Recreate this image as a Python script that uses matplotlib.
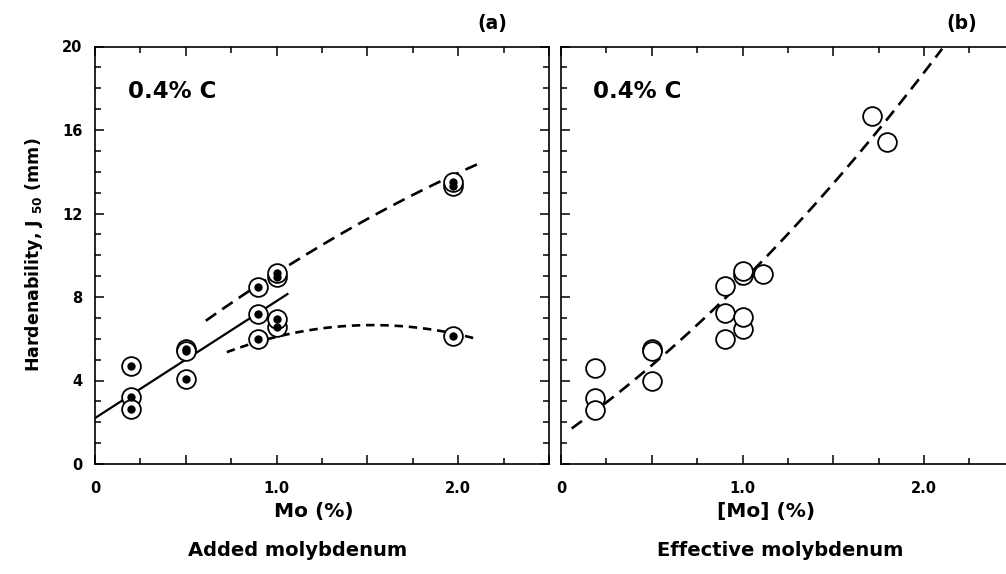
import numpy as np
import matplotlib
matplotlib.use("Agg")
import matplotlib.pyplot as plt
from matplotlib.ticker import FixedLocator, MultipleLocator, FuncFormatter

plt.rcParams['font.family'] = ['DejaVu Sans']
plt.rcParams['font.weight'] = 'bold'
plt.rcParams['mathtext.fontset'] = 'dejavusans'

# ---- data (a): added molybdenum ----
added_mo = [0.2, 0.2, 0.2, 0.5, 0.5, 0.5, 0.9, 0.9, 0.9, 1.0, 1.0, 1.0, 1.0, 1.97, 1.97, 1.97]
added_j50 = [4.69, 3.22, 2.63, 5.50, 5.42, 4.07, 8.48, 7.18, 6.01, 8.95, 9.15, 6.57, 6.97, 13.3, 13.5, 6.14]

# ---- data (b): effective molybdenum ----
eff_mo = [0.19, 0.19, 0.19, 0.50, 0.50, 0.50, 0.905, 0.905, 0.905, 1.0, 1.0, 1.0, 1.0, 1.115, 1.713, 1.794]
eff_j50 = [4.58, 3.17, 2.58, 5.53, 5.42, 3.99, 8.52, 7.24, 6.01, 9.04, 9.23, 6.49, 7.05, 9.09, 16.65, 15.42]

# ---- trend lines, anchor points ----
solid_x = [0.0, 1.065]
solid_y = [2.2, 8.17]
upper_x = [0.61, 1.056, 1.497, 2.11]
upper_y = [6.84, 9.52, 11.67, 14.39]
lower_x = [0.726, 1.056, 1.368, 1.864, 2.11]
lower_y = [5.30, 6.33, 6.57, 6.33, 6.04]
eff_x = [0.059, 0.545, 1.096, 1.739, 2.10]
eff_y = [1.66, 5.06, 9.84, 15.5, 20.1]

yticks = [0, 4, 8, 12, 16, 20]
xtick_labels = {0.0: '0', 1.0: '1.0', 2.0: '2.0'}

W, H = 1006, 574
fig = plt.figure(figsize=(W / 100, H / 100), dpi=100)

def px(x0, y0, x1, y1):
    return [x0 / W, 1 - y1 / H, (x1 - x0) / W, (y1 - y0) / H]

axL = fig.add_axes(px(95, 46.5, 549, 464))
axR = fig.add_axes(px(561, 46.5, 561 + 453.75, 464))

def smooth(ax, xs, ys, deg, **kw):
    c = np.polyfit(xs, ys, deg)
    xx = np.linspace(min(xs), max(xs), 200)
    ax.plot(xx, np.polyval(c, xx), color='black', **kw)

def style(ax, ylabels):
    ax.set_xlim(0, 2.5)
    ax.set_ylim(0, 20)
    ax.xaxis.set_major_locator(MultipleLocator(0.5))
    ax.xaxis.set_minor_locator(MultipleLocator(0.25))
    ax.xaxis.set_major_formatter(FuncFormatter(lambda v, p: xtick_labels.get(round(v, 2), '')))
    ax.yaxis.set_major_locator(FixedLocator(yticks))
    ax.yaxis.set_minor_locator(MultipleLocator(1))
    ax.tick_params(which='both', direction='in', top=True, right=True, width=1.1)
    ax.tick_params(which='major', length=6.5)
    ax.tick_params(which='minor', length=4)
    ax.tick_params(axis='x', which='major', pad=12, labelsize=10.5)
    ax.tick_params(axis='y', which='major', pad=9, labelsize=10.5)
    if not ylabels:
        ax.set_yticklabels([])
    for s in ax.spines.values():
        s.set_linewidth(1.2)
    for lab in ax.get_xticklabels() + ax.get_yticklabels():
        lab.set_fontweight('bold')

style(axL, True)
style(axR, False)

# panel (a)
smooth(axL, solid_x, solid_y, 1, lw=1.6, solid_capstyle='butt')
smooth(axL, upper_x, upper_y, 2, lw=1.9, dashes=(4.8, 2.8))
smooth(axL, lower_x, lower_y, 2, lw=1.9, dashes=(3.2, 2.2))
axL.plot(added_mo, added_j50, 'o', ms=13.5, mfc='white', mec='black', mew=1.3, zorder=3)
axL.plot(added_mo, added_j50, 'o', ms=6, mfc='black', mec='black', mew=0, zorder=4)

# panel (b)
smooth(axR, eff_x, eff_y, 2, lw=1.9, dashes=(4.8, 2.8))
axR.plot(eff_mo, eff_j50, 'o', ms=13.5, mfc='white', mec='black', mew=1.3, zorder=3)

def ftext(x, y, s, **kw):
    fig.text(x / W, 1 - y / H, s, ha='center', va='center', fontweight='bold', **kw)

ftext(172, 91, '0.4% C', fontsize=16.5)
ftext(637, 91, '0.4% C', fontsize=16.5)
ftext(492, 24, '(a)', fontsize=13.5)
ftext(962, 24, '(b)', fontsize=13.5)
ftext(314, 511, 'Mo (%)', fontsize=14.5)
ftext(298, 550, 'Added molybdenum', fontsize=14)
ftext(766, 511, '[Mo] (%)', fontsize=14.5)
ftext(780, 550, 'Effective molybdenum', fontsize=14)
ftext(34, 255, r'Hardenability, J $_{\mathbf{50}}$ (mm)', fontsize=12.5, rotation=90)

fig.savefig('out.png', dpi=100)
